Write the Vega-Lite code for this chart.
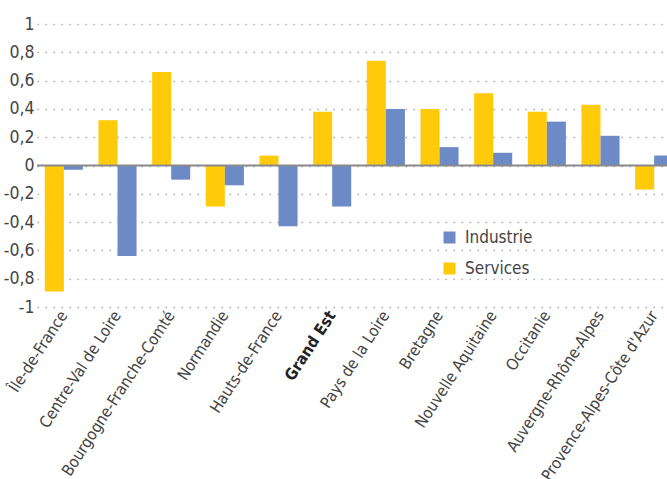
{
  "$schema": "https://vega.github.io/schema/vega-lite/v6.json",
  "width": 644,
  "height": 283,
  "autosize": {"type": "none"},
  "padding": {"left": 37, "top": 24, "right": 0, "bottom": 172},
  "background": "white",
  "config": {
    "view": {"stroke": null},
    "font": "DejaVu Sans Condensed, sans-serif",
    "axis": {"labelOverlap": false},
    "axisY": {"labelOverlap": false},
    "axisQuantitative": {"labelOverlap": false}
  },
  "data": {
    "values": [
      {"region": "Île-de-France", "serie": "Services", "v": -0.89},
      {"region": "Île-de-France", "serie": "Industrie", "v": -0.03},
      {"region": "Centre-Val de Loire", "serie": "Services", "v": 0.32},
      {"region": "Centre-Val de Loire", "serie": "Industrie", "v": -0.64},
      {"region": "Bourgogne-Franche-Comté", "serie": "Services", "v": 0.66},
      {"region": "Bourgogne-Franche-Comté", "serie": "Industrie", "v": -0.10},
      {"region": "Normandie", "serie": "Services", "v": -0.29},
      {"region": "Normandie", "serie": "Industrie", "v": -0.14},
      {"region": "Hauts-de-France", "serie": "Services", "v": 0.07},
      {"region": "Hauts-de-France", "serie": "Industrie", "v": -0.43},
      {"region": "Grand Est", "serie": "Services", "v": 0.38},
      {"region": "Grand Est", "serie": "Industrie", "v": -0.29},
      {"region": "Pays de la Loire", "serie": "Services", "v": 0.74},
      {"region": "Pays de la Loire", "serie": "Industrie", "v": 0.40},
      {"region": "Bretagne", "serie": "Services", "v": 0.40},
      {"region": "Bretagne", "serie": "Industrie", "v": 0.13},
      {"region": "Nouvelle Aquitaine", "serie": "Services", "v": 0.51},
      {"region": "Nouvelle Aquitaine", "serie": "Industrie", "v": 0.09},
      {"region": "Occitanie", "serie": "Services", "v": 0.38},
      {"region": "Occitanie", "serie": "Industrie", "v": 0.31},
      {"region": "Auvergne-Rhône-Alpes", "serie": "Services", "v": 0.43},
      {"region": "Auvergne-Rhône-Alpes", "serie": "Industrie", "v": 0.21},
      {"region": "Provence-Alpes-Côte d'Azur", "serie": "Services", "v": -0.17},
      {"region": "Provence-Alpes-Côte d'Azur", "serie": "Industrie", "v": 0.07}
    ]
  },
  "layer": [
    {
      "mark": {"type": "bar"},
      "encoding": {
        "x": {
          "field": "region", "type": "nominal", "sort": null,
          "scale": {"paddingInner": 0.29, "paddingOuter": 0.145},
          "axis": {
            "title": null, "domain": false, "ticks": false, "labelAngle": -57,
            "labelPadding": 5, "labelLimit": 300, "labelOverlap": false,
            "labelFont": "DejaVu Sans Condensed, sans-serif",
            "labelFontSize": 16,
            "labelFontWeight": {"condition": {"test": "datum.value === 'Grand Est'", "value": "bold"}, "value": "normal"},
            "labelColor": {"condition": {"test": "datum.value === 'Grand Est'", "value": "#222222"}, "value": "#444444"}
          }
        },
        "xOffset": {"field": "serie", "type": "nominal", "sort": ["Services", "Industrie"]},
        "y": {
          "field": "v", "type": "quantitative",
          "scale": {"domain": [-1, 1], "nice": false},
          "axis": {
            "title": null, "domain": false, "ticks": false,
            "values": [-1, -0.8, -0.6, -0.4, -0.2, 0, 0.2, 0.4, 0.6, 0.8, 1],
            "labelPadding": 3, "labelOverlap": false,
            "labelFont": "DejaVu Sans Condensed, sans-serif",
            "labelFontSize": 17.5, "labelColor": "#444444",
            "labelExpr": "(datum.value < 0 ? '-' : '') + replace(format(abs(datum.value), '~g'), '.', ',')",
            "grid": true, "gridColor": "#a8a8a8", "gridDash": [1.5, 6.5], "gridWidth": 1.3
          }
        },
        "color": {
          "field": "serie", "type": "nominal",
          "scale": {"domain": ["Industrie", "Services"], "range": ["#6C8AC6", "#FFCA0A"]},
          "legend": {
            "title": null, "orient": "none", "legendX": 404, "legendY": 205,
            "labelFont": "DejaVu Sans Condensed, sans-serif",
            "labelFontSize": 17, "labelColor": "#444444",
            "symbolType": "square", "symbolSize": 144, "symbolStrokeWidth": 0, "symbolOpacity": 1,
            "rowPadding": 13, "labelOffset": 7
          }
        }
      }
    },
    {
      "data": {"values": [{"z": 0}]},
      "mark": {"type": "rule", "color": "#8a8a8a", "strokeWidth": 2},
      "encoding": {
        "y": {
          "field": "z", "type": "quantitative",
          "axis": {
            "title": null, "domain": false, "ticks": false,
            "values": [-1, -0.8, -0.6, -0.4, -0.2, 0, 0.2, 0.4, 0.6, 0.8, 1],
            "labelPadding": 3, "labelOverlap": false,
            "labelFont": "DejaVu Sans Condensed, sans-serif",
            "labelFontSize": 17.5, "labelColor": "#444444",
            "labelExpr": "(datum.value < 0 ? '-' : '') + replace(format(abs(datum.value), '~g'), '.', ',')",
            "grid": true, "gridColor": "#a8a8a8", "gridDash": [1.5, 6.5], "gridWidth": 1.3
          }
        }
      }
    }
  ]
}
